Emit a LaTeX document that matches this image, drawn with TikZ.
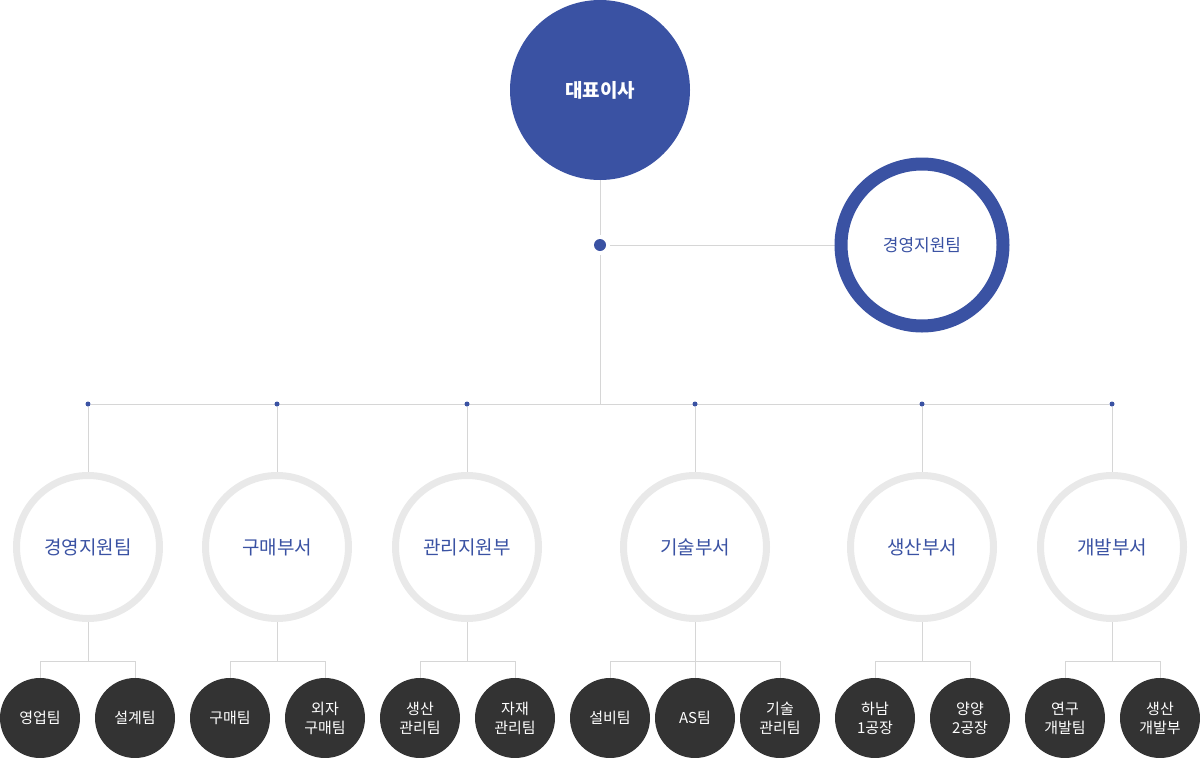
\documentclass[tikz,border=0pt]{standalone}
\usepackage{fontspec}
\setmainfont{Noto Sans CJK KR}
\usetikzlibrary{positioning, backgrounds}
\definecolor{ceoblue}{RGB}{58, 82, 163}
\definecolor{ringgray}{RGB}{233, 233, 233}
\definecolor{linegray}{RGB}{214, 214, 214}
\definecolor{teamdark}{RGB}{51, 51, 51}

\begin{document}
\begin{tikzpicture}[x=1pt, y=-1pt,
  link/.style={draw=linegray, line width=1pt},
  joint/.style={circle, fill=ceoblue, inner sep=0pt, minimum size=5pt},
  dept/.style={circle, draw=ringgray, line width=7pt, fill=white, minimum size=143pt, inner sep=0pt, text=ceoblue, font=\fontsize{19}{23}\selectfont},
  team/.style={circle, fill=teamdark, minimum size=80pt, inner sep=0pt, text=white, align=center, font=\fontsize{15}{19}\selectfont}]
  \useasboundingbox (0, 0) rectangle (1200, 758);

  % CEO and support team
  \node[circle, fill=ceoblue, minimum size=180pt, inner sep=0pt, text=white, font=\fontsize{19}{23}\selectfont\bfseries] (ceo) at (600, 90) {대표이사};
  \node[circle, fill=ceoblue, minimum size=12pt, inner sep=0pt, outer sep=4pt] (hub) at (600, 245) {};
  \node[circle, draw=ceoblue, line width=13pt, fill=white, minimum size=162pt, inner sep=0pt, text=ceoblue, font=\fontsize{17}{21}\selectfont] (support) at (922, 245) {경영지원팀};
  \coordinate (drop) at (600, 404);

  % Bar joints
  \node[joint] (j1) at (88, 404) {};
  \node[joint] (j2) at (277, 404) {};
  \node[joint] (j3) at (467, 404) {};
  \node[joint] (j4) at (695, 404) {};
  \node[joint] (j5) at (922, 404) {};
  \node[joint] (j6) at (1112, 404) {};

  % Departments
  \node[dept] (d1) at (88, 547) {경영지원팀};
  \node[dept] (d2) at (277, 547) {구매부서};
  \node[dept] (d3) at (467, 547) {관리지원부};
  \node[dept] (d4) at (695, 547) {기술부서};
  \node[dept] (d5) at (922, 547) {생산부서};
  \node[dept] (d6) at (1112, 547) {개발부서};

  % Teams
  \node[team] (t11) at (40, 718) {영업팀};
  \node[team] (t12) at (135, 718) {설계팀};
  \node[team] (t21) at (230, 718) {구매팀};
  \node[team] (t22) at (325, 718) {외자\\구매팀};
  \node[team] (t31) at (420, 718) {생산\\관리팀};
  \node[team] (t32) at (515, 718) {자재\\관리팀};
  \node[team] (t41) at (610, 718) {설비팀};
  \node[team] (t42) at (695, 718) {AS팀};
  \node[team] (t43) at (780, 718) {기술\\관리팀};
  \node[team] (t51) at (875, 718) {하남\\1공장};
  \node[team] (t52) at (970, 718) {양양\\2공장};
  \node[team] (t61) at (1065, 718) {연구\\개발팀};
  \node[team] (t62) at (1160, 718) {생산\\개발부};

  % Connectors
  \begin{pgfonlayer}{background}
    \draw[link] (ceo) -- (hub);
    \draw[link] (hub) -- (support);
    \draw[link] (hub) -- (drop);
    \draw[link] (j1) -- (j6);
    \foreach \i in {1,...,6} {
      \draw[link] (j\i) -- (d\i);
      \draw[link] (d\i.south) -- ++(0, 40);
    }
    \draw[link] (t11.north) -- ++(0, -16) -| (t12.north);
    \draw[link] (t21.north) -- ++(0, -16) -| (t22.north);
    \draw[link] (t31.north) -- ++(0, -16) -| (t32.north);
    \draw[link] (t41.north) -- ++(0, -16) -| (t43.north);
    \draw[link] (t42.north) -- ++(0, -16);
    \draw[link] (t51.north) -- ++(0, -16) -| (t52.north);
    \draw[link] (t61.north) -- ++(0, -16) -| (t62.north);
  \end{pgfonlayer}
\end{tikzpicture}
\end{document}
